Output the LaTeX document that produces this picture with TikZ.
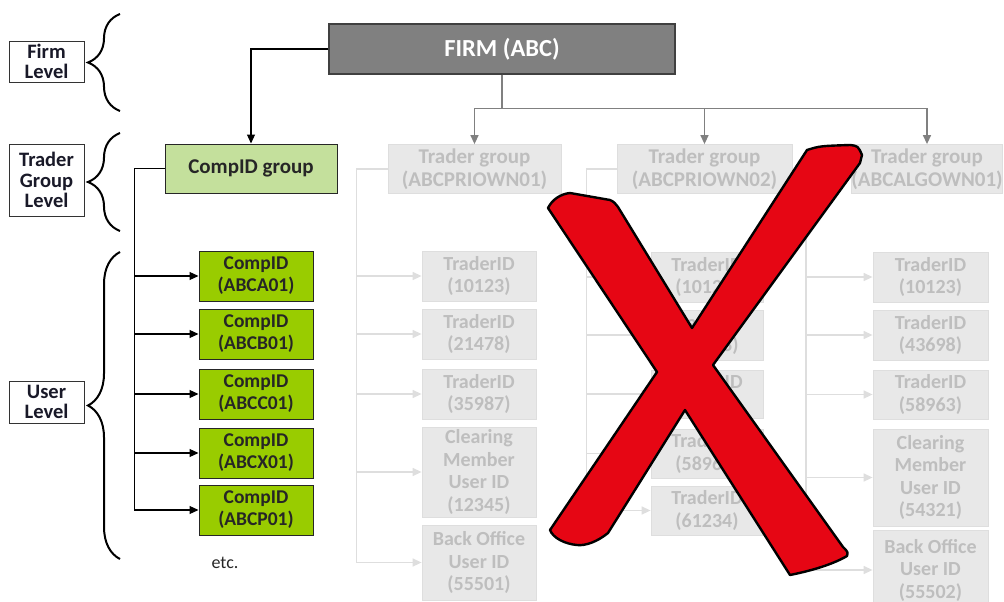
\documentclass[tikz,border=0pt]{standalone}
\usepackage{fontspec}
\setmainfont{Carlito}
\usetikzlibrary{arrows.meta,decorations.pathreplacing}

\definecolor{firmgray}{RGB}{128,128,128}
\definecolor{grpgreen}{RGB}{196,224,156}
\definecolor{cidgreen}{RGB}{153,204,0}
\definecolor{ghostfill}{RGB}{232,232,232}
\definecolor{ghostline}{RGB}{222,222,222}
\definecolor{ghosttext}{RGB}{190,190,190}
\definecolor{midgray}{RGB}{128,128,128}
\definecolor{crossred}{RGB}{230,6,20}
\definecolor{labelink}{RGB}{25,25,40}

\begin{document}
\begin{tikzpicture}
  [x=1pt,y=-1pt,
   every node/.style={align=center,inner sep=0pt},
   lvl/.style={draw=black!80,line width=0.9pt,fill=white,text=labelink,minimum width=75pt,
     font=\fontsize{20.5}{20.5}\selectfont\bfseries},
   firmbox/.style={draw=black!75,line width=1.2pt,fill=firmgray,text=white,
     minimum width=346pt,minimum height=50pt,font=\fontsize{24.5}{26}\selectfont\bfseries},
   grpbox/.style={draw=black!85,line width=1pt,fill=grpgreen,text=black!85,
     minimum width=172pt,minimum height=49pt,font=\fontsize{21}{22}\selectfont\bfseries},
   cid/.style={draw=black!85,line width=1pt,fill=cidgreen,text=black!85,
     minimum width=114pt,minimum height=50pt,font=\fontsize{19.5}{22}\selectfont\bfseries},
   ghostgrp/.style={draw=ghostline,line width=0.8pt,fill=ghostfill,text=ghosttext,
     minimum height=49pt,font=\fontsize{21}{22.5}\selectfont\bfseries},
   ghost/.style={draw=ghostline,line width=0.8pt,fill=ghostfill,text=ghosttext,
     font=\fontsize{20}{22.5}\selectfont\bfseries},
   blk/.style={draw=black,line width=1.2pt,-{Triangle[length=9pt,width=8pt]}},
   firmlink/.style={draw=midgray,line width=1.4pt,-{Triangle[length=9pt,width=8pt]}},
   ghostlink/.style={draw=ghostline,line width=1.4pt,-{Triangle[length=9pt,width=8pt]}},
   brc/.style={draw=black,line width=2pt,decorate,decoration={brace,amplitude=32pt}},
   xmark/.style={draw=black,line width=2.4pt,fill=crossred,line join=round}]

  \useasboundingbox (0,0) rectangle (1004,602);

  % level labels and braces
  \node[lvl,minimum height=41pt] (lfirm) at (46.5,61.5) {Firm\\Level};
  \node[lvl,minimum height=72pt] (ltrader) at (46.5,180) {Trader\\Group\\Level};
  \node[lvl,minimum height=42pt] (luser) at (46.5,402) {User\\Level};
  \draw[brc] (120,111) -- (120,14);
  \draw[brc] (120,231) -- (120,133);
  \draw[brc] (120,559) -- (120,252);

  % firm and the CompID side
  \node[firmbox] (firm) at (502,49) {FIRM (ABC)};
  \node[grpbox] (cgrp) at (251,168.5) {CompID group};
  \node[cid] (ca) at (256,276) {CompID\\(ABCA01)};
  \node[cid] (cb) at (256,334) {CompID\\(ABCB01)};
  \node[cid] (cc) at (256,394) {CompID\\(ABCC01)};
  \node[cid] (cx) at (256,453) {CompID\\(ABCX01)};
  \node[cid] (cp) at (256,510) {CompID\\(ABCP01)};
  \node[font=\fontsize{18}{20}\selectfont,text=black!85] (etc) at (225,563) {etc.};

  % trader groups (greyed out)
  \node[ghostgrp,minimum width=173pt] (tg1) at (474.5,169) {Trader group\\(ABCPRIOWN01)};
  \node[ghostgrp,minimum width=175pt] (tg2) at (704.5,169) {Trader group\\(ABCPRIOWN02)};
  \node[ghostgrp,minimum width=150pt] (tg3) at (927,169) {Trader group\\(ABCALGOWN01)};

  \node[ghost,minimum width=114pt,minimum height=50pt] (t1a) at (479,276) {TraderID\\(10123)};
  \node[ghost,minimum width=114pt,minimum height=50pt] (t1b) at (479,334) {TraderID\\(21478)};
  \node[ghost,minimum width=114pt,minimum height=50pt] (t1c) at (479,394) {TraderID\\(35987)};
  \node[ghost,minimum width=114pt,minimum height=90pt] (t1d) at (479,472) {Clearing\\Member\\User ID\\(12345)};
  \node[ghost,minimum width=114pt,minimum height=75pt] (t1e) at (479,562.5) {Back Office\\User ID\\(55501)};

  \node[ghost,minimum width=112pt,minimum height=50pt] (t2a) at (707,277) {TraderID\\(10123)};
  \node[ghost,minimum width=112pt,minimum height=50pt] (t2b) at (707,335) {TraderID\\(21478)};
  \node[ghost,minimum width=112pt,minimum height=48pt] (t2c) at (707,394) {TraderID\\(35987)};
  \node[ghost,minimum width=112pt,minimum height=49pt] (t2d) at (707,453.5) {TraderID\\(58963)};
  \node[ghost,minimum width=112pt,minimum height=49pt] (t2e) at (707,510.5) {TraderID\\(61234)};

  \node[ghost,minimum width=115pt,minimum height=50pt] (t3a) at (930.5,277) {TraderID\\(10123)};
  \node[ghost,minimum width=115pt,minimum height=50pt] (t3b) at (930.5,335) {TraderID\\(43698)};
  \node[ghost,minimum width=115pt,minimum height=49pt] (t3c) at (930.5,394.5) {TraderID\\(58963)};
  \node[ghost,minimum width=115pt,minimum height=97pt] (t3d) at (930.5,477.5) {Clearing\\Member\\User ID\\(54321)};
  \node[ghost,minimum width=115pt,minimum height=80pt] (t3e) at (930.5,570) {Back Office\\User ID\\(55502)};

  % connectors
  \draw[blk] (firm.west) -| (cgrp.north);
  \foreach \c in {ca,cb,cc,cx,cp}
    \draw[blk] (cgrp.west) -- ++(-30,0) |- (\c.west);
  \foreach \g in {tg1,tg2,tg3}
    \draw[firmlink] (firm.south) -- ++(0,34) -| (\g.north);
  \foreach \k/\d in {1/31,2/30,3/45}
    \foreach \s in {a,b,c,d,e}
      \draw[ghostlink] (tg\k.west) -- ++(-\d,0) |- (t\k\s.west);

  % the big red cross
  \draw[xmark] (657,372) -- (548,208)
    .. controls (552,200) and (560,194) .. (570,193) -- (610,200)
    .. controls (614,202) .. (618,207) -- (692,328) -- (807,150)
    .. controls (820,146) .. (850,145) .. controls (858,146) .. (862,155)
    -- (860,163) -- (713,365) -- (843,547) .. controls (848,552) .. (847,556)
    .. controls (830,566) and (805,572) .. (790,575) -- (685,410) -- (608,533)
    .. controls (597,542) and (585,546) .. (577,545)
    .. controls (565,544) and (553,538) .. (550,530) -- cycle;
\end{tikzpicture}
\end{document}
